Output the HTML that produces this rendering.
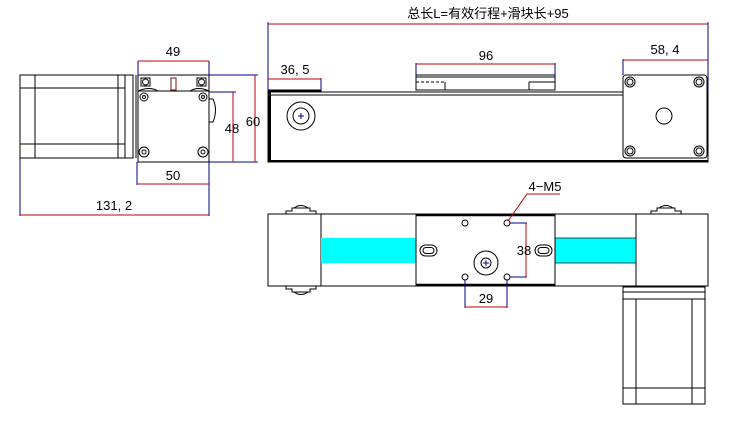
<!DOCTYPE html>
<html><head><meta charset="utf-8"><style>
html,body{margin:0;padding:0;background:#fff;width:740px;height:422px;overflow:hidden}
svg{display:block}
text{font-family:"Liberation Sans","Noto Sans CJK SC",sans-serif;font-size:13px;fill:#000}
</style></head><body>
<svg width="740" height="422" viewBox="0 0 740 422" xmlns="http://www.w3.org/2000/svg">
<g fill="none" stroke="#000" stroke-width="1">
<!-- Left view motor -->
<rect x="20" y="75" width="113" height="83"/>
<line x1="35" y1="75" x2="35" y2="158"/><line x1="118" y1="75" x2="118" y2="158"/>
<line x1="125" y1="75" x2="125" y2="158"/>
<line x1="20" y1="88" x2="125" y2="88"/><line x1="20" y1="144" x2="125" y2="144"/>
<line x1="133" y1="75" x2="133" y2="158"/><line x1="136" y1="75" x2="136" y2="158"/>
<rect x="138" y="75" width="71" height="87"/>
<line x1="138" y1="91" x2="209" y2="91"/>
<path d="M138 91 Q150 86 158 91 M190 91 Q198 86 209 91"/>
<rect x="141" y="78" width="9" height="8"/><circle cx="145.5" cy="82" r="3"/>
<rect x="197" y="78" width="9" height="8"/><circle cx="201.5" cy="82" r="3"/>
<rect x="171" y="78" width="5" height="12" stroke="#7a1010"/>
<circle cx="144" cy="97" r="4"/><circle cx="144" cy="97" r="1.5"/>
<circle cx="203" cy="97" r="4"/><circle cx="203" cy="97" r="1.5"/>
<circle cx="144" cy="152" r="5"/><circle cx="144" cy="152" r="2"/>
<circle cx="203" cy="152" r="5"/><circle cx="203" cy="152" r="2"/>
<path d="M209 99 L213 99 Q218 110 213 122 L209 122"/>
<!-- Top view rail -->
<rect x="268" y="92" width="440" height="70"/>
<line x1="268" y1="95" x2="623" y2="95"/>
<line x1="268" y1="161" x2="708" y2="161" stroke-width="2"/>
<line x1="269.5" y1="92" x2="269.5" y2="162" stroke-width="3"/>
<rect x="268" y="90" width="53" height="2" fill="#000"/>
<rect x="416" y="75" width="139" height="15"/>
<line x1="416" y1="77" x2="555" y2="77"/><line x1="416" y1="82" x2="445" y2="82" stroke-dasharray="3,2"/>
<line x1="445" y1="82" x2="445" y2="90"/><line x1="529" y1="82" x2="555" y2="82"/><line x1="529" y1="82" x2="529" y2="90"/>
<circle cx="301" cy="116" r="14"/><circle cx="301" cy="116" r="8"/>
<rect x="623" y="75" width="84" height="83" rx="3" fill="#fff"/>
<circle cx="630" cy="82" r="5"/><circle cx="630" cy="82" r="3"/>
<circle cx="699" cy="82" r="5"/><circle cx="699" cy="82" r="3"/>
<circle cx="630" cy="151" r="5"/><circle cx="630" cy="151" r="3"/>
<circle cx="699" cy="151" r="5"/><circle cx="699" cy="151" r="3"/>
<circle cx="664" cy="116" r="8"/>
<!-- Bottom view -->
<rect x="268" y="214" width="440" height="72"/>
<line x1="321" y1="214" x2="321" y2="286"/>
<line x1="636" y1="214" x2="636" y2="286"/>
<path d="M286 214 v-3 h6 v-3 h18 v3 h6 v3 M294 208 q7 -5 14 0"/>
<path d="M286 286 v3 h6 v3 h18 v-3 h6 v-3 M294 292 q7 5 14 0"/>
<path d="M651 214 v-3 h6 v-3 h18 v3 h6 v3 M659 208 q7 -5 14 0"/>
</g>
<rect x="321" y="238" width="96" height="25" fill="#00ffff"/>
<rect x="555" y="238" width="81" height="25" fill="#00ffff" stroke="#000" stroke-width="0.7"/>
<g fill="none" stroke="#000" stroke-width="1">
<rect x="416" y="215" width="139" height="70" fill="#fff"/>
<line x1="416" y1="215" x2="555" y2="215" stroke-width="2.5"/>
<line x1="416" y1="285" x2="555" y2="285" stroke-width="2.5"/>
<rect x="420" y="245" width="17" height="11" rx="5.5"/><rect x="423" y="247.5" width="11" height="6" rx="3"/>
<rect x="535" y="245" width="17" height="11" rx="5.5"/><rect x="538" y="247.5" width="11" height="6" rx="3"/>
<circle cx="486" cy="263" r="12"/><circle cx="486" cy="263" r="5"/>
<circle cx="465" cy="223" r="3"/><circle cx="507" cy="223" r="3"/>
<circle cx="465" cy="277" r="3"/><circle cx="507" cy="277" r="3"/>
<rect x="623" y="287" width="82" height="117"/>
<line x1="623" y1="292" x2="705" y2="292"/><line x1="623" y1="299" x2="705" y2="299"/>
<line x1="623" y1="388" x2="705" y2="388"/>
<line x1="636" y1="299" x2="636" y2="404"/><line x1="692" y1="299" x2="692" y2="404"/>
</g>
<!-- crosses -->
<g stroke="#00008b" stroke-width="1">
<line x1="298" y1="116" x2="304" y2="116"/><line x1="301" y1="113" x2="301" y2="119"/>
<line x1="483" y1="263" x2="489" y2="263"/><line x1="486" y1="260" x2="486" y2="266"/>
</g>
<!-- blue extension lines -->
<g stroke="#00008b" stroke-width="1" fill="none">
<line x1="138" y1="61" x2="138" y2="75"/><line x1="209" y1="61" x2="209" y2="75"/>
<line x1="209" y1="75" x2="258" y2="75"/><line x1="209" y1="162" x2="258" y2="162"/>
<line x1="209" y1="92" x2="236" y2="92"/>
<line x1="137" y1="162" x2="137" y2="185"/><line x1="209" y1="162" x2="209" y2="216"/>
<line x1="20" y1="158" x2="20" y2="216"/>
<line x1="268" y1="22" x2="268" y2="92"/><line x1="708" y1="22" x2="708" y2="92"/>
<line x1="321" y1="78" x2="321" y2="90"/>
<line x1="416" y1="63" x2="416" y2="75"/><line x1="555" y1="63" x2="555" y2="75"/>
<line x1="623" y1="59" x2="623" y2="75"/>
<line x1="510" y1="223" x2="527" y2="223"/><line x1="510" y1="277" x2="527" y2="277"/>
<line x1="465" y1="280" x2="465" y2="308"/><line x1="507" y1="280" x2="507" y2="308"/>
</g>
<!-- red dimension lines -->
<g stroke="#c00000" stroke-width="1" fill="none">
<line x1="138" y1="61" x2="209" y2="61"/>
<line x1="233" y1="92" x2="233" y2="162"/>
<line x1="255" y1="75" x2="255" y2="162"/>
<line x1="137" y1="184" x2="209" y2="184"/>
<line x1="20" y1="215" x2="209" y2="215"/>
<line x1="268" y1="24" x2="708" y2="24"/>
<line x1="268" y1="79" x2="321" y2="79"/>
<line x1="416" y1="64" x2="555" y2="64"/>
<line x1="623" y1="60" x2="708" y2="60"/>
<line x1="526" y1="223" x2="526" y2="277"/>
<line x1="465" y1="307" x2="507" y2="307"/>
<line x1="508" y1="221" x2="527" y2="194"/><line x1="527" y1="194" x2="560" y2="194"/>
</g>
<text x="173" y="56" text-anchor="middle">49</text>
<text x="232" y="133" text-anchor="middle">48</text>
<text x="253" y="126" text-anchor="middle">60</text>
<text x="173" y="180" text-anchor="middle">50</text>
<text x="114" y="210" text-anchor="middle">131, 2</text>
<text x="488" y="18" text-anchor="middle">总长L=有效行程+滑块长+95</text>
<text x="295" y="74" text-anchor="middle">36, 5</text>
<text x="486" y="60" text-anchor="middle">96</text>
<text x="665" y="54" text-anchor="middle">58, 4</text>
<text x="545" y="191" text-anchor="middle">4−M5</text>
<text x="524" y="255" text-anchor="middle">38</text>
<text x="486" y="303" text-anchor="middle">29</text>
</svg>
</body></html>
